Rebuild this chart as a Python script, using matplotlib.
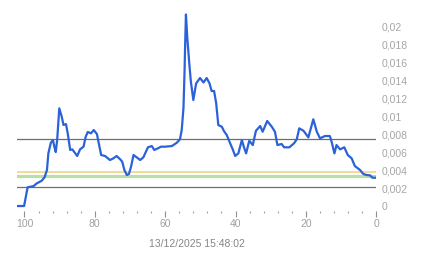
import matplotlib
matplotlib.use("Agg")
import matplotlib.pyplot as plt
from matplotlib.ticker import FixedLocator, MultipleLocator

# Data (x = age index, y = value)
x_vals = [102.2, 100.1, 99.1, 97.4, 96.5, 95.1, 94.3, 93.6, 93.2, 92.5, 91.9, 91.5, 91.1, 90.7,
          90.1, 89.4, 88.9, 88.2, 87.7, 87.0, 86.4, 85.0, 84.2, 83.2, 82.6, 82.0, 81.1, 80.3,
          79.4, 78.2, 77.1, 75.7, 74.7, 73.8, 72.8, 72.2, 71.6, 70.9, 70.3, 69.7, 69.0, 68.1,
          67.1, 66.2, 64.9, 63.8, 63.1, 62.1, 61.2, 60.0, 58.1, 56.7, 55.8, 55.3, 54.8, 54.5,
          54.3, 54.1, 53.7, 53.1, 52.7, 52.0, 51.2, 50.1, 49.1, 48.2, 47.4, 46.8, 46.1, 45.5,
          44.9, 43.9, 43.3, 42.5, 41.6, 40.8, 40.1, 39.2, 38.2, 37.6, 37.0, 36.1, 35.1, 34.2,
          33.0, 32.3, 31.0, 29.7, 28.8, 28.1, 26.9, 26.2, 24.7, 23.4, 22.6, 21.9, 20.7, 19.3,
          17.9, 16.9, 16.0, 14.6, 13.2, 12.7, 11.9, 11.3, 10.3, 9.1, 8.1, 7.0, 6.1, 4.6, 3.7,
          2.7, 1.8, 1.1, 0.2]
y_vals = [0.0, 0.0, 2.09, 2.23, 2.53, 2.82, 3.20, 4.02, 5.89, 7.07, 7.37, 6.63, 6.03, 7.37,
          10.91, 9.98, 9.05, 9.16, 8.12, 6.26, 6.33, 5.59, 6.33, 6.63, 7.74, 8.27, 8.12, 8.49,
          8.04, 5.70, 5.59, 5.14, 5.33, 5.59, 5.22, 4.95, 4.02, 3.46, 3.58, 4.40, 5.70, 5.44,
          5.14, 5.44, 6.56, 6.70, 6.26, 6.44, 6.63, 6.63, 6.70, 7.07, 7.45, 8.49, 10.95, 15.0,
          18.4, 21.4, 18.7, 15.7, 13.9, 11.84, 13.7, 14.3, 13.8, 14.3, 13.7, 12.85, 12.85, 11.47,
          9.05, 8.86, 8.38, 7.93, 7.07, 6.33, 5.59, 5.88, 7.37, 6.56, 5.88, 7.29, 6.81, 8.41,
          8.94, 8.30, 9.50, 8.86, 8.30, 6.81, 6.93, 6.56, 6.56, 7.00, 7.45, 8.68, 8.41, 7.67,
          9.69, 8.30, 7.56, 7.82, 7.82, 7.19, 5.88, 6.81, 6.33, 6.56, 5.70, 5.33, 4.47, 4.02,
          3.58, 3.46, 3.43, 3.16, 3.16]
y_vals = [v / 1000.0 for v in y_vals]

hline_values = [0.00745, 0.00212, 0.00376, 0.00339]
hline_colors = ["#6e6e6e", "#6e6e6e", "#f2d98a", "#b5e0a8"]
hline_widths = [0.9, 0.9, 1.3, 2.2]

y_ticks = [0, 0.002, 0.004, 0.006, 0.008, 0.01, 0.012, 0.014, 0.016, 0.018, 0.02]
y_tick_labels = ["0", "0,002", "0,004", "0,006", "0,008", "0,01", "0,012", "0,014", "0,016", "0,018", "0,02"]
x_ticks = [100, 80, 60, 40, 20, 0]
x_label = "13/12/2025 15:48:02"

plt.rcParams['font.family'] = ['Liberation Sans', 'DejaVu Sans']

fig = plt.figure(figsize=(4.43, 2.58), dpi=100)
ax = fig.add_axes([0.0377, 0.1841, 0.8117, 0.798])

for v, c, w in zip(hline_values, hline_colors, hline_widths):
    ax.axhline(v, color=c, lw=w, zorder=1)

ax.plot(x_vals, y_vals, color="#2b62d9", lw=1.6, zorder=3, solid_joinstyle="round")

ax.set_xlim(102.2, 0)
ax.set_ylim(-0.0005, 0.0225)

for s in ax.spines.values():
    s.set_visible(False)

ax.yaxis.tick_right()
ax.set_yticks(y_ticks)
ax.set_yticklabels(y_tick_labels)
ax.tick_params(axis="y", length=0, pad=4, labelsize=7.5, labelcolor="#a6a6a6")

ax.xaxis.set_major_locator(FixedLocator(x_ticks))
ax.xaxis.set_minor_locator(MultipleLocator(4))
ax.tick_params(axis="x", which="major", length=4, width=0.8, color="#909090",
               labelsize=7.5, labelcolor="#a0a0a0", pad=2)
ax.tick_params(axis="x", which="minor", length=1.5, width=0.8, color="#a0a0a0")
ax.set_xlabel(x_label, fontsize=7.5, color="#858585", labelpad=7)

fig.savefig("out.png", dpi=100)
